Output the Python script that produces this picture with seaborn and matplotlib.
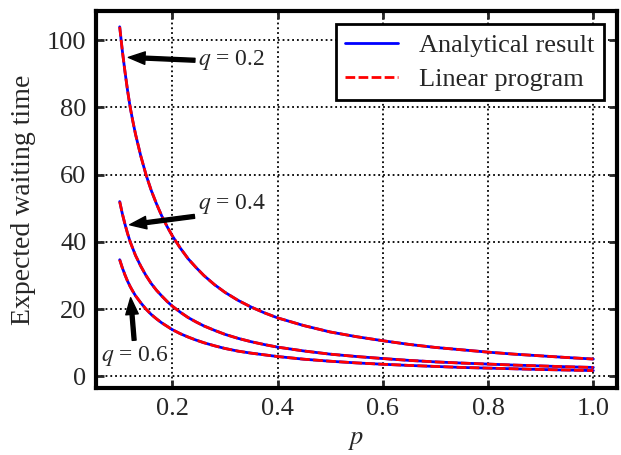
import matplotlib
matplotlib.use("Agg")
import matplotlib.pyplot as plt
import seaborn as sns

# values
p_values = [0.100, 0.105, 0.110, 0.115, 0.120, 0.125, 0.130, 0.140, 0.150,
            0.160, 0.170, 0.180, 0.190, 0.200, 0.215, 0.230, 0.245, 0.260,
            0.280, 0.300, 0.325, 0.350, 0.375, 0.400, 0.450, 0.500, 0.550,
            0.600, 0.650, 0.700, 0.750, 0.800, 0.850, 0.900, 0.950, 1.000]
wait_q02 = [104, 96.9, 90.7, 85.0, 80.0, 75.9, 72.1, 65.6, 60.0,
            55.3, 51.3, 47.7, 44.6, 41.8, 38.2, 35.0, 32.4, 30.0,
            27.3, 25.0, 22.6, 20.6, 18.9, 17.4, 15.1, 13.2, 11.8,
            10.6, 9.5, 8.6, 7.9, 7.2, 6.6, 6.1, 5.6, 5.15]
wait_q04 = [52.0, 48.4, 45.3, 42.5, 40.0, 38.0, 36.0, 32.8, 30.0,
            27.6, 25.6, 23.9, 22.3, 20.9, 19.1, 17.5, 16.2, 15.0,
            13.7, 12.5, 11.3, 10.3, 9.45, 8.7, 7.55, 6.6, 5.9,
            5.3, 4.75, 4.3, 3.95, 3.65, 3.35, 3.1, 2.85, 2.65]
wait_q06 = [34.7, 32.3, 30.2, 28.3, 26.7, 25.3, 24.0, 21.9, 20.0,
            18.4, 17.1, 15.9, 14.9, 13.9, 12.7, 11.7, 10.8, 10.0,
            9.1, 8.3, 7.5, 6.9, 6.4, 5.9, 5.1, 4.5, 4.0,
            3.6, 3.25, 2.95, 2.65, 2.45, 2.25, 2.05, 1.88, 1.72]
# linear program gives the same numbers as the analytical result
lp_q02 = list(wait_q02)
lp_q04 = list(wait_q04)
lp_q06 = list(wait_q06)

q_labels = ["$q$ = 0.2", "$q$ = 0.4", "$q$ = 0.6"]
tip_p = [0.1165, 0.119, 0.1208]
tip_y = [94.9, 45.1, 23.4]
text_p = [0.313, 0.313, 0.128]
text_y = [94.0, 51.3, 6.2]

sns.set_style("ticks")
plt.rcParams["font.family"] = ["Liberation Serif", "DejaVu Serif"]
plt.rcParams["mathtext.fontset"] = "stix"
plt.rcParams["lines.dashed_pattern"] = [3.5, 1.2]

fig, ax = plt.subplots(figsize=(6.21, 4.55), dpi=100)
fig.subplots_adjust(left=0.1546, right=0.9936, bottom=0.147, top=0.9758)

analytic = [wait_q02, wait_q04, wait_q06]
linear = [lp_q02, lp_q04, lp_q06]
for i in range(3):
    sns.lineplot(x=p_values, y=analytic[i], color="blue", lw=2, ax=ax,
                 label="Analytical result" if i == 0 else None)
for i in range(3):
    sns.lineplot(x=p_values, y=linear[i], color="red", lw=2, linestyle="--", ax=ax,
                 label="Linear program" if i == 0 else None)

for i in range(3):
    ax.annotate(q_labels[i], xy=(tip_p[i], tip_y[i]), xytext=(text_p[i], text_y[i]),
                fontsize=17, ha="center", va="center",
                arrowprops=dict(facecolor="black", edgecolor="black", width=2.8,
                                headwidth=9, headlength=12, shrink=0))

ax.set_xlim(0.055, 1.045)
ax.set_ylim(-3.5, 108.7)
ax.set_xticks([0.2, 0.4, 0.6, 0.8, 1.0])
ax.set_yticks([0, 20, 40, 60, 80, 100])
ax.grid(True, color="black", linestyle=":", linewidth=1.3)
ax.tick_params(direction="in", length=6, width=2, top=True, right=True,
               labelsize=19, pad=7)
for s in ax.spines.values():
    s.set_linewidth(3)
    s.set_color("black")

ax.set_xlabel("$p$", fontsize=19, labelpad=7)
ax.set_ylabel("Expected waiting time", fontsize=20, labelpad=8)

leg = ax.legend(loc="upper right", fontsize=19, fancybox=False, framealpha=1,
                edgecolor="black", handlelength=2.0, borderpad=0.35,
                labelspacing=0.4, handletextpad=0.8)
leg.get_frame().set_linewidth(2)

fig.savefig("out.png", dpi=100)
